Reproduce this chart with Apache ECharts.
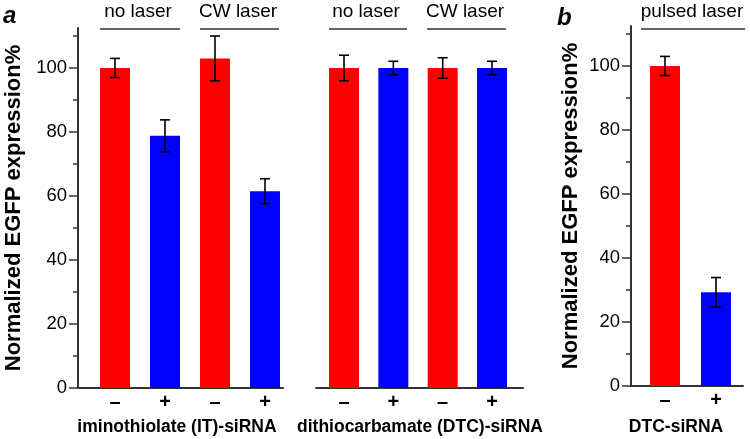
<!DOCTYPE html>
<html><head><meta charset="utf-8">
<script src="https://cdn.jsdelivr.net/npm/echarts@6/dist/echarts.min.js"></script>
<style>html,body{margin:0;padding:0;background:#fff}#c{width:750px;height:439px}</style>
</head><body><div id="c"></div>
<script>
// ---- data ----
const signsIT = ['–', '+', '–', '+'];
const valuesIT = [100, 78.8, 103, 61.5];
const errIT = [3, 5, 7, 3.9];

const signsDTC = ['–', '+', '–', '+'];
const valuesDTC = [100, 100, 100, 100];
const errDTC = [4, 2.1, 3.2, 2.1];

const signsPulsed = ['–', '+'];
const valuesPulsed = [100, 29.3];
const errPulsed = [3, 4.6];

const yTicks = [0, 20, 40, 60, 80, 100];
const yMinorTicks = [10, 30, 50, 70, 90, 110];
const groupLabels = ['no laser', 'CW laser', 'no laser', 'CW laser', 'pulsed laser'];
const siRNANames = ['iminothiolate (IT)-siRNA', 'dithiocarbamate (DTC)-siRNA', 'DTC-siRNA'];
const yName = 'Normalized EGFP expression%';
const panelLetters = ['a', 'b'];

// ---- styles ----
const FONT = '"Liberation Sans", Arial, Helvetica, sans-serif';
const RED = '#ff0000', BLUE = '#0000ff', AX = '#333333';
const Y_MAX = 112.5;

const chart = echarts.init(document.getElementById('c'), null, {renderer: 'canvas'});

function xAxisFor(gridIndex, signs, min, max) {
  const pos = signs.map((s, i) => i + 1);
  return {
    type: 'value', gridIndex, min, max,
    axisLine: {show: true, onZero: false, lineStyle: {color: AX, width: 2}},
    axisTick: {show: false},
    splitLine: {show: false},
    axisLabel: {
      customValues: pos, margin: 4,
      formatter: v => signs[Math.round(v) - 1] || '',
      fontFamily: FONT, fontWeight: 'bold', fontSize: 20, color: '#000'
    }
  };
}
function mainY(gridIndex, gap) {
  return {
    type: 'value', gridIndex, min: 0, max: Y_MAX,
    axisLine: {show: true, lineStyle: {color: AX, width: 2}},
    axisTick: {show: true, customValues: yTicks, length: 9, lineStyle: {color: AX, width: 1.5}},
    axisLabel: {customValues: yTicks, margin: 11, fontFamily: FONT, fontSize: 18.5, color: '#000'},
    splitLine: {show: false},
    name: yName, nameLocation: 'middle', nameGap: gap,
    nameTextStyle: {fontFamily: FONT, fontWeight: 'bold', fontSize: 22, color: '#000'}
  };
}
function minorY(gridIndex) {
  return {
    type: 'value', gridIndex, min: 0, max: Y_MAX, position: 'left',
    axisLine: {show: false},
    axisTick: {show: true, customValues: yMinorTicks, length: 5, lineStyle: {color: AX, width: 1.5}},
    axisLabel: {show: false}, splitLine: {show: false}
  };
}
function barSeries(values, signs, xi, yi) {
  return {
    type: 'bar', xAxisIndex: xi, yAxisIndex: yi, barWidth: 30,
    data: values.map((v, i) => ({value: [i + 1, v], itemStyle: {color: signs[i] === '+' ? BLUE : RED}})),
    silent: true
  };
}
function errSeries(values, errs, xi, yi) {
  return {
    type: 'custom', xAxisIndex: xi, yAxisIndex: yi, silent: true, z: 5,
    encode: {x: 0, y: [1, 2]},
    data: values.map((v, i) => [i + 1, v - errs[i], v + errs[i]]),
    renderItem: (params, api) => {
      const x = api.value(0);
      const lo = api.coord([x, api.value(1)]);
      const hi = api.coord([x, api.value(2)]);
      const w = 5;
      const st = {stroke: '#000', lineWidth: 1.6};
      return {type: 'group', children: [
        {type: 'line', shape: {x1: hi[0], y1: hi[1], x2: lo[0], y2: lo[1]}, style: st},
        {type: 'line', shape: {x1: hi[0] - w, y1: hi[1], x2: hi[0] + w, y2: hi[1]}, style: st},
        {type: 'line', shape: {x1: lo[0] - w, y1: lo[1], x2: lo[0] + w, y2: lo[1]}, style: st}
      ]};
    }
  };
}

// bracket annotations (positions are layout only)
const brackets = [
  {x1: 100, x2: 180, cx: 138},
  {x1: 200, x2: 279, cx: 238},
  {x1: 329, x2: 407, cx: 366},
  {x1: 427, x2: 506, cx: 465},
  {x1: 641, x2: 745, cx: 692}
];
const graphics = [];
brackets.forEach((b, i) => {
  graphics.push({type: 'line', shape: {x1: b.x1, y1: 29, x2: b.x2, y2: 29}, style: {stroke: AX, lineWidth: 1.6}});
  graphics.push({type: 'text', x: b.cx, y: 12, style: {text: groupLabels[i], fontFamily: FONT, fontSize: 19, fill: '#000', textAlign: 'center', textVerticalAlign: 'middle'}});
});
[[177, 0], [420, 1], [676, 2]].forEach(([cx, i]) => {
  graphics.push({type: 'text', x: cx, y: 427, style: {text: siRNANames[i], fontFamily: FONT, fontWeight: 'bold', fontSize: 17.5, fill: '#000', textAlign: 'center', textVerticalAlign: 'middle'}});
});
graphics.push({type: 'text', x: 3, y: 16, style: {text: panelLetters[0], fontFamily: FONT, fontWeight: 'bold', fontStyle: 'italic', fontSize: 24, fill: '#000', textVerticalAlign: 'middle'}});
graphics.push({type: 'text', x: 557, y: 18, style: {text: panelLetters[1], fontFamily: FONT, fontWeight: 'bold', fontStyle: 'italic', fontSize: 24, fill: '#000', textVerticalAlign: 'middle'}});

chart.setOption({
  animation: false,
  backgroundColor: '#fff',
  grid: [
    {left: 78, width: 205, top: 28, height: 360},
    {left: 316, width: 207, top: 28, height: 360},
    {left: 631, width: 112, top: 26, height: 360}
  ],
  xAxis: [
    xAxisFor(0, signsIT, 0.26, 4.36),
    xAxisFor(1, signsDTC, 0.432, 4.628),
    xAxisFor(2, signsPulsed, 0.333, 2.53)
  ],
  yAxis: [
    mainY(0, 53), minorY(0),
    {type: 'value', gridIndex: 1, min: 0, max: Y_MAX, show: false},
    mainY(2, 49), minorY(2)
  ],
  series: [
    barSeries(valuesIT, signsIT, 0, 0), errSeries(valuesIT, errIT, 0, 0),
    barSeries(valuesDTC, signsDTC, 1, 2), errSeries(valuesDTC, errDTC, 1, 2),
    barSeries(valuesPulsed, signsPulsed, 2, 3), errSeries(valuesPulsed, errPulsed, 2, 3)
  ],
  graphic: graphics
});
</script></body></html>
